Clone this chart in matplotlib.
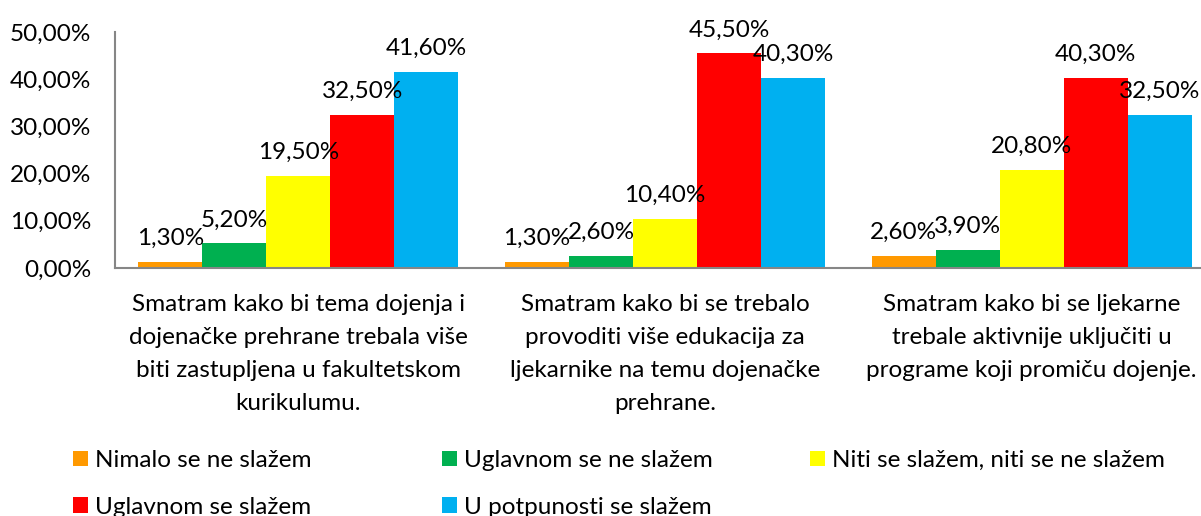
import numpy as np
import matplotlib
matplotlib.use("Agg")
import matplotlib.pyplot as plt

plt.rcParams['font.family'] = ['Lato', 'DejaVu Sans']

categories = ["Smatram kako bi tema dojenja i\ndojenačke prehrane trebala više\nbiti zastupljena u fakultetskom\nkurikulumu.",
              "Smatram kako bi se trebalo\nprovoditi više edukacija za\nljekarnike na temu dojenačke\nprehrane.",
              "Smatram kako bi se ljekarne\ntrebale aktivnije uključiti u\nprograme koji promiču dojenje."]
series_names = ["Nimalo se ne slažem", "Uglavnom se ne slažem", "Niti se slažem, niti se ne slažem",
                "Uglavnom se slažem", "U potpunosti se slažem"]
values = [[1.3, 1.3, 2.6],
          [5.2, 2.6, 3.9],
          [19.5, 10.4, 20.8],
          [32.5, 45.5, 40.3],
          [41.6, 40.3, 32.5]]
colors = ['#FF9900', '#00B050', '#FFFF00', '#FF0000', '#00B0F0']
yticks = [0, 10, 20, 30, 40, 50]

fs = 17.5
fig = plt.figure(figsize=(12.01, 5.16), dpi=100)
ax = fig.add_axes([115/1201, 1 - 268/516, 1100/1201, 236/516])

x = np.arange(len(categories))
w = 0.1746
handles = []
for i, (name, vals) in enumerate(zip(series_names, values)):
    pos = x + (i - 2) * w
    b = ax.bar(pos, vals, width=w, color=colors[i], label=name, linewidth=0)
    handles.append(b)
    for p, v in zip(pos, vals):
        ax.annotate(("%.2f%%" % v).replace('.', ','), (p, v), xytext=(0, 12), textcoords='offset points',
                    ha='center', va='baseline', fontsize=fs)

ax.set_xlim(-0.5, 2.5)
ax.set_ylim(0, 50)
ax.set_yticks(yticks)
ax.set_yticklabels([("%.2f%%" % t).replace('.', ',') for t in yticks], fontsize=fs)
ax.set_xticks(x)
ax.set_xticklabels(categories, fontsize=fs, linespacing=1.7, va='top')
ax.tick_params(axis='y', length=0, pad=17)
ax.tick_params(axis='x', length=0, pad=19)
for s in ['top', 'right']:
    ax.spines[s].set_visible(False)
for s in ['left', 'bottom']:
    ax.spines[s].set_color('#868686')
    ax.spines[s].set_linewidth(1.5)

# three legend columns with fixed starts, like Excel
legend_cols = [[0, 3], [1, 4], [2]]
col_x = [73, 442, 810]
for cols, cx in zip(legend_cols, col_x):
    fig.legend([handles[k] for k in cols], [series_names[k] for k in cols],
               loc='upper left', bbox_to_anchor=(cx / 1201, 1 - 450 / 516), frameon=False, fontsize=fs,
               handlelength=0.6, handleheight=0.6, handletextpad=0.3, labelspacing=1.05,
               borderpad=0, borderaxespad=0)

fig.savefig('out.png', dpi=100)
